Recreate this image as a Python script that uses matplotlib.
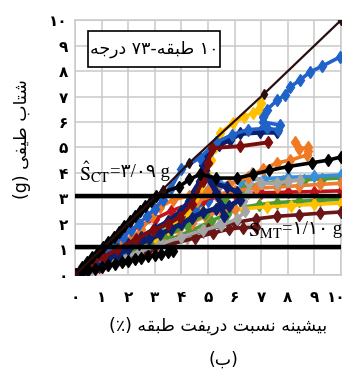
import re
import matplotlib
matplotlib.use('Agg')
import matplotlib.pyplot as plt
from matplotlib.patches import Rectangle

plt.rcParams['mathtext.fontset'] = 'stix'

# --- IDA curves: peak interstory drift (%) vs spectral acceleration (g) ---
ref_drift = [0.0, 3.3, 4.3, 7.1, 10.0]
ref_sa = [0.0, 3.35, 4.4, 7.1, 10.0]

black_hi_drift = [0.05, 0.25, 0.45, 0.65, 0.85, 1.05, 1.25, 1.45, 1.65, 1.85, 2.05, 2.25, 2.45, 2.65,
                  2.85, 3.05, 3.3, 3.9, 4.3, 4.7, 5.3, 6.1, 6.7, 7.3, 8.0, 8.9, 9.5, 10.0]
black_hi_sa = [0.05, 0.3, 0.5, 0.7, 0.9, 1.1, 1.3, 1.5, 1.7, 1.9, 2.1, 2.3, 2.5, 2.7,
               2.9, 3.1, 3.25, 3.45, 3.75, 3.95, 3.8, 3.8, 3.95, 4.1, 4.25, 4.4, 4.5, 4.63]

blue_hi_drift = [0.05, 0.3, 0.6, 0.9, 1.2, 1.5, 1.8, 2.1, 2.4, 2.7, 3.0, 3.3, 3.6, 4.0, 4.7, 5.3, 5.9,
                 6.5, 7.2, 7.63, 7.7, 7.07, 7.07, 7.2, 7.6, 7.9, 8.08, 8.46, 8.83, 9.3, 9.96]
blue_hi_sa = [0.05, 0.25, 0.5, 0.75, 1.0, 1.25, 1.5, 1.75, 2.0, 2.3, 2.6, 2.95, 3.4, 4.15, 4.6, 5.2, 5.5,
              5.7, 5.75, 5.7, 5.88, 6.0, 6.2, 6.47, 6.86, 7.06, 7.37, 7.65, 7.96, 8.2, 8.55]

navy_drift = [0.05, 0.4, 0.8, 1.2, 1.6, 2.0, 2.4, 2.8, 3.2, 3.6, 4.0, 4.4, 4.8, 5.3, 5.8, 6.2, 6.1,
              5.7, 5.2, 4.9, 4.8, 4.9, 5.1, 5.4, 5.83, 6.2, 6.95, 7.6]
navy_sa = [0.05, 0.2, 0.4, 0.6, 0.8, 1.0, 1.2, 1.4, 1.6, 1.8, 2.0, 2.25, 2.45, 2.6, 2.7, 2.95, 3.25,
           3.45, 3.6, 3.9, 4.3, 4.6, 4.9, 5.1, 5.3, 5.55, 5.6, 5.6]

navy2_drift = [0.05, 0.5, 1.0, 1.5, 2.0, 2.5, 3.0, 3.5, 4.0, 4.3, 4.5, 4.7, 4.9, 5.1, 5.3, 5.5, 5.6]
navy2_sa = [0.05, 0.3, 0.6, 0.9, 1.2, 1.5, 1.8, 2.1, 2.5, 2.9, 3.3, 3.7, 4.1, 3.7, 3.2, 2.7, 2.3]

yellow_hi_drift = [0.05, 0.5, 1.0, 1.5, 2.0, 2.5, 3.0, 3.5, 3.9, 4.2, 4.5, 4.75, 4.95, 5.1, 5.25,
                   5.45, 5.94, 6.35, 6.7, 6.9, 7.0]
yellow_hi_sa = [0.05, 0.25, 0.5, 0.75, 1.0, 1.25, 1.5, 1.8, 2.1, 2.5, 3.0, 3.5, 4.0, 4.5, 5.0,
                5.56, 5.96, 6.2, 6.35, 6.5, 6.75]

maroon_hi_drift = [0.05, 0.5, 1.05, 1.58, 2.3, 2.93, 3.5, 3.95, 4.4, 4.8, 5.0, 5.15, 6.2, 7.25]
maroon_hi_sa = [0.05, 0.35, 0.7, 1.0, 1.4, 1.76, 2.0, 2.27, 2.8, 3.7, 4.4, 4.98, 5.05, 5.2]

orange_hi_drift = [0.05, 0.4, 0.8, 1.2, 1.6, 2.07, 2.5, 2.9, 3.2, 3.7, 4.3, 5.0, 5.8, 6.5, 7.07,
                   7.6, 8.08, 8.7, 8.76, 8.76, 8.4, 8.27]
orange_hi_sa = [0.05, 0.35, 0.7, 1.0, 1.2, 1.37, 1.8, 2.3, 2.67, 2.95, 3.1, 3.3, 3.55, 3.85, 4.15,
                4.4, 4.5, 4.7, 4.85, 5.0, 4.95, 5.2]

orange_lo_drift = [0.05, 0.5, 1.0, 1.5, 2.0, 2.5, 3.0, 3.5, 4.0, 4.6, 5.3, 6.0, 6.8, 7.6, 8.4, 9.2, 10.0]
orange_lo_sa = [0.05, 0.3, 0.55, 0.8, 1.05, 1.35, 1.7, 2.1, 2.5, 2.9, 3.15, 3.3, 3.4, 3.45, 3.5, 3.55, 3.6]

orange_mid_drift = [0.05, 0.4, 0.9, 1.4, 1.9, 2.4, 2.9, 3.4, 3.9, 4.4, 4.9, 5.5, 6.0]
orange_mid_sa = [0.05, 0.2, 0.45, 0.65, 0.85, 1.05, 1.3, 1.55, 1.8, 2.05, 2.3, 2.5, 2.6]

skyblue_drift = [0.05, 0.6, 1.2, 1.8, 2.4, 3.0, 3.5, 4.0, 4.5, 5.0, 5.45, 6.2, 7.1, 8.0, 9.0, 10.0]
skyblue_sa = [0.05, 0.3, 0.6, 0.9, 1.2, 1.6, 2.0, 2.5, 3.0, 3.35, 3.55, 3.68, 3.78, 3.83, 3.87, 3.92]

blue_mid_drift = [0.05, 0.5, 1.0, 1.5, 2.0, 2.5, 3.0, 3.5, 4.0, 4.5, 5.0, 5.4]
blue_mid_sa = [0.05, 0.3, 0.6, 0.9, 1.2, 1.5, 1.75, 2.0, 2.3, 2.6, 2.9, 3.1]

green_hi_drift = [0.05, 0.7, 1.4, 2.1, 2.8, 3.5, 4.2, 4.9, 5.6, 6.3, 7.0, 7.8, 8.6, 9.3, 10.0]
green_hi_sa = [0.05, 0.3, 0.6, 0.9, 1.2, 1.55, 1.95, 2.4, 2.9, 3.4, 3.6, 3.68, 3.73, 3.77, 3.8]

red_drift = [0.05, 0.7, 1.3, 1.8, 2.4, 3.0, 3.6, 4.2, 4.8, 5.4, 6.0, 7.0, 8.0, 9.0, 10.0]
red_sa = [0.05, 0.5, 1.0, 1.6, 1.9, 2.2, 2.5, 2.75, 2.95, 3.1, 3.18, 3.22, 3.25, 3.27, 3.3]

gray_drift = [0.05, 0.8, 1.6, 2.4, 3.2, 4.0, 4.8, 5.5, 6.1, 6.4, 6.3, 6.5, 6.55, 6.65, 7.0, 7.6, 8.0, 8.46]
gray_sa = [0.05, 0.3, 0.6, 0.9, 1.2, 1.5, 1.75, 1.95, 2.2, 2.5, 2.9, 3.2, 3.6, 4.0, 3.6, 3.6, 3.68, 3.73]

gray_lo_drift = [0.05, 0.6, 1.2, 1.8, 2.4, 3.0, 3.6, 4.2, 4.8, 5.4]
gray_lo_sa = [0.05, 0.2, 0.4, 0.6, 0.8, 1.0, 1.2, 1.45, 1.7, 1.95]

yellow_lo_drift = [0.05, 0.8, 1.6, 2.4, 3.2, 3.8, 4.3, 4.7, 5.5, 6.3, 7.2, 8.1, 9.0, 10.0]
yellow_lo_sa = [0.05, 0.35, 0.7, 1.05, 1.45, 1.85, 2.25, 2.5, 2.55, 2.6, 2.67, 2.72, 2.77, 2.82]

green_lo_drift = [0.05, 0.9, 1.8, 2.7, 3.6, 4.4, 5.1, 5.7, 6.3, 6.9, 7.6, 8.4, 9.2, 10.0]
green_lo_sa = [0.05, 0.35, 0.7, 1.05, 1.4, 1.75, 2.1, 2.4, 2.65, 2.76, 2.84, 2.89, 2.93, 2.96]

maroon_lo_drift = [0.05, 1.0, 2.0, 3.0, 4.0, 5.0, 6.0, 6.8, 7.6, 8.4, 9.2, 10.0]
maroon_lo_sa = [0.05, 0.4, 0.8, 1.15, 1.5, 1.8, 2.05, 2.2, 2.3, 2.36, 2.42, 2.47]

maroon_mt_drift = [0.05, 0.9, 1.8, 2.7, 3.6, 4.5, 5.2, 5.8, 6.3, 6.8]
maroon_mt_sa = [0.05, 0.3, 0.6, 0.9, 1.2, 1.45, 1.65, 1.8, 1.86, 1.87]

black_lo_drift = [0.05, 0.25, 0.5, 0.75, 1.0, 1.25, 1.5, 1.75, 2.0, 2.25, 2.5, 2.75, 3.0, 3.25, 3.5, 3.7]
black_lo_sa = [0.05, 0.12, 0.19, 0.25, 0.32, 0.38, 0.44, 0.5, 0.56, 0.62, 0.68, 0.73, 0.78, 0.83, 0.88, 0.93]

# collapse capacity and median threshold levels (g)
s_ct = 3.09
s_mt = 1.10
s_ct_label = '۳/۰۹'
s_mt_label = '۱/۱۰'

x_ticks = list(range(11))
y_ticks = list(range(11))
fa_digits = ['۰', '۱', '۲', '۳', '۴', '۵', '۶', '۷', '۸', '۹', '۱۰']

# Persian letters -> (isolated, final, initial, medial) presentation forms
FORMS = {
    'ا': ('\uFE8D', '\uFE8E', None, None),
    'ب': ('\uFE8F', '\uFE90', '\uFE91', '\uFE92'),
    'ت': ('\uFE95', '\uFE96', '\uFE97', '\uFE98'),
    'ج': ('\uFE9D', '\uFE9E', '\uFE9F', '\uFEA0'),
    'د': ('\uFEA9', '\uFEAA', None, None),
    'ر': ('\uFEAD', '\uFEAE', None, None),
    'س': ('\uFEB1', '\uFEB2', '\uFEB3', '\uFEB4'),
    'ش': ('\uFEB5', '\uFEB6', '\uFEB7', '\uFEB8'),
    'ط': ('\uFEC1', '\uFEC2', '\uFEC3', '\uFEC4'),
    'ف': ('\uFED1', '\uFED2', '\uFED3', '\uFED4'),
    'ق': ('\uFED5', '\uFED6', '\uFED7', '\uFED8'),
    'ن': ('\uFEE5', '\uFEE6', '\uFEE7', '\uFEE8'),
    'ه': ('\uFEE9', '\uFEEA', '\uFEEB', '\uFEEC'),
    'ی': ('\uFEEF', '\uFEF0', '\uFEF3', '\uFEF4'),
}


def fa(text):
    """Join letters and lay the string out right-to-left for plain LTR rendering."""
    out = []
    for i, c in enumerate(text):
        if c not in FORMS:
            out.append(c)
            continue
        prev = text[i - 1] if i > 0 else ''
        nxt = text[i + 1] if i + 1 < len(text) else ''
        before = prev in FORMS and FORMS[prev][2] is not None
        after = nxt in FORMS and FORMS[c][2] is not None
        iso, fin, ini, med = FORMS[c]
        out.append(med if before and after else fin if before else ini if after else iso)
    vis = ''.join(reversed(out))
    vis = re.sub(r'[0-9A-Za-z\u06F0-\u06F9/.]+', lambda m: m.group(0)[::-1], vis)
    return vis.translate(str.maketrans('()', ')('))


FA_FONT = ['DejaVu Sans']
LAT_FONT = ['Liberation Serif', 'DejaVu Sans']

fig = plt.figure(figsize=(3.47, 3.72), dpi=100)
fig.patch.set_facecolor('white')
ax = fig.add_axes([0.216, 0.261, 0.767, 0.685])
ax.set_xlim(0, 10)
ax.set_ylim(0, 10)

ax.set_xticks(x_ticks)
ax.set_yticks(y_ticks)
# the last x label sits at the right edge, drawn separately so it stays inside
ax.set_xticklabels(fa_digits[:-1] + [''], fontsize=11, family=FA_FONT, fontweight='bold')
ax.set_yticklabels(fa_digits, fontsize=11, family=FA_FONT, fontweight='bold')
ax.annotate(fa_digits[-1], xy=(x_ticks[-1], 0), xytext=(3.5, -11), textcoords='offset points',
            fontsize=11, family=FA_FONT, fontweight='bold', ha='right', va='top',
            annotation_clip=False)
ax.tick_params(length=0)
ax.tick_params(axis='x', pad=11)
ax.tick_params(axis='y', pad=5)
ax.grid(True, color='#c9c9c9', linewidth=1.1)
ax.set_axisbelow(True)
for sp in ax.spines.values():
    sp.set_color('#c9c9c9')
    sp.set_linewidth(1.1)

curves = [
    (gray_lo_drift, gray_lo_sa, '#a5a5a5', 2.6),
    (green_lo_drift, green_lo_sa, '#4e9a2e', 2.6),
    (yellow_lo_drift, yellow_lo_sa, '#ffc000', 2.6),
    (maroon_lo_drift, maroon_lo_sa, '#6b1616', 2.6),
    (maroon_mt_drift, maroon_mt_sa, '#6b1616', 2.6),
    (orange_mid_drift, orange_mid_sa, '#ed7d31', 2.6),
    (blue_mid_drift, blue_mid_sa, '#1f62c8', 2.6),
    (red_drift, red_sa, '#c0141a', 2.6),
    (green_hi_drift, green_hi_sa, '#4e9a2e', 2.6),
    (skyblue_drift, skyblue_sa, '#3a8fdc', 2.6),
    (orange_lo_drift, orange_lo_sa, '#ed7d31', 2.6),
    (gray_drift, gray_sa, '#a5a5a5', 2.6),
    (orange_hi_drift, orange_hi_sa, '#f07a22', 2.6),
    (yellow_hi_drift, yellow_hi_sa, '#ffc000', 2.6),
    (navy2_drift, navy2_sa, '#0c1f6e', 3.6),
    (navy_drift, navy_sa, '#0c1f6e', 3.6),
    (blue_hi_drift, blue_hi_sa, '#1f62c8', 2.6),
    (maroon_hi_drift, maroon_hi_sa, '#7b0c0c', 2.8),
    (black_lo_drift, black_lo_sa, '#000000', 2.6),
    (black_hi_drift, black_hi_sa, '#000000', 2.6),
]
for xs, ys, col, lw in curves:
    ax.plot(xs, ys, color=col, lw=lw, marker='d', ms=6, mec=col, mfc=col,
            solid_joinstyle='round', zorder=3)

ax.plot(ref_drift, ref_sa, color='#2a0d0d', lw=1.6, marker='d', ms=5.5, zorder=4)

ax.axhline(s_ct, color='black', lw=3.2, zorder=5)
ax.axhline(s_mt, color='black', lw=3.2, zorder=5)

# S_CT label: math symbol followed by the Persian-digit value
t_ct = ax.text(0.15, 3.72, r'$\hat{\mathrm{S}}_{\mathrm{CT}}$', fontsize=14.5,
               ha='left', va='baseline', zorder=6)
ax.annotate('=' + s_ct_label + ' g', xy=(1, 0), xycoords=t_ct, xytext=(0, 2.5),
            textcoords='offset points', fontsize=13.5, family=LAT_FONT,
            ha='left', va='bottom', zorder=6)

t_mt = ax.text(10.05, 1.62, '=' + s_mt_label + ' g', fontsize=13.5, family=LAT_FONT,
               ha='right', va='baseline', zorder=6)
ax.annotate(r'$\mathrm{S}_{\mathrm{MT}}$', xy=(0, 0), xycoords=t_mt, xytext=(0, -2.5),
            textcoords='offset points', fontsize=14.5, ha='right', va='bottom', zorder=6)

# title box in the upper-left corner
ax.add_patch(Rectangle((0.49, 8.16), 4.96, 1.41, facecolor='white', edgecolor='black',
                       lw=1.2, zorder=6))
ax.text(2.97, 8.86, fa('۱۰ طبقه-۷۳ درجه'), fontsize=12.5, family=FA_FONT,
        ha='center', va='center', zorder=7)

fig.text(0.063, 0.625, fa('شتاب طیفی (g)'), rotation=90, fontsize=12.5,
         family=FA_FONT, ha='center', va='center')
fig.text(0.63, 0.124, fa('بیشینه نسبت دریفت طبقه (٪)'), fontsize=12.5,
         family=FA_FONT, ha='center', va='center')
fig.text(0.643, 0.032, fa('(ب)'), fontsize=12.5, family=FA_FONT, ha='center', va='center')

fig.savefig('out.png', dpi=100, facecolor='white')
